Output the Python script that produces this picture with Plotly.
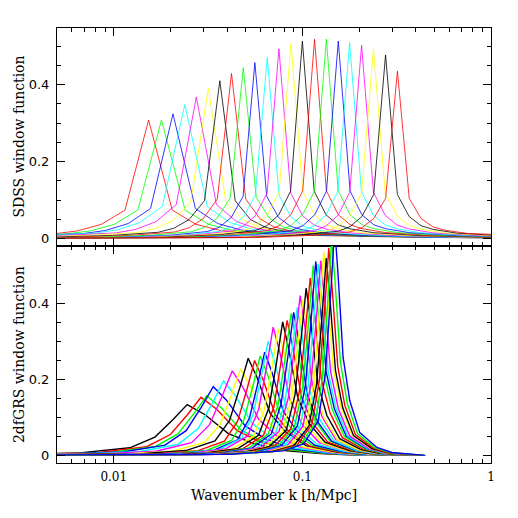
import numpy as np
import plotly.graph_objects as go
from plotly.subplots import make_subplots

# --- SDSS (top panel): peak position, peak height, relative width of each window
SDSS_K = [0.0153, 0.0179, 0.0206, 0.0238, 0.0274, 0.0317, 0.0365, 0.0421,
          0.0486, 0.0560, 0.0651, 0.0751, 0.0870, 0.100, 0.116, 0.134,
          0.155, 0.178, 0.206, 0.238, 0.276, 0.319]
SDSS_PEAK = [0.308, 0.308, 0.324, 0.348, 0.368, 0.390, 0.410, 0.429,
             0.444, 0.457, 0.470, 0.493, 0.507, 0.513, 0.518, 0.518,
             0.513, 0.509, 0.502, 0.492, 0.477, 0.435]
SDSS_WIDTH = [2.0, 2.0, 1.9, 1.9, 1.7, 1.5, 1.3, 1.2, 1.1, 1.0, 1.0,
              1.0, 1.0, 1.0, 1.0, 1.0, 1.0, 1.0, 1.0, 1.0, 1.0, 1.0]
SDSS_STEP_DEX = 0.0627
# window shape: offset in k-bins, height relative to the peak
SDSS_OFFSET = [-40, -12, -7, -4, -3, -2, -1, 0, 1, 2, 3, 4, 6, 10, 16, 40]
SDSS_SHAPE = [0.0, 0.006, 0.02, 0.04, 0.065, 0.12, 0.24, 1.0,
              0.24, 0.12, 0.07, 0.05, 0.03, 0.015, 0.006, 0.0]

# --- 2dFGRS (bottom panel)
TDF_K = [0.0245, 0.0290, 0.0311, 0.0337, 0.0382, 0.0425, 0.0470, 0.0516,
         0.0558, 0.0597, 0.0631, 0.0658, 0.0700, 0.0744, 0.0786, 0.0830,
         0.0872, 0.0899, 0.0939, 0.0973, 0.1004, 0.1047, 0.1100, 0.1141,
         0.1177, 0.1213, 0.1251, 0.1298, 0.1338, 0.1380, 0.1431, 0.1484]
TDF_PEAK = [0.134, 0.153, 0.157, 0.181, 0.196, 0.223, 0.228, 0.256,
            0.250, 0.262, 0.272, 0.301, 0.338, 0.333, 0.352, 0.356,
            0.374, 0.377, 0.390, 0.421, 0.410, 0.441, 0.467, 0.500,
            0.511, 0.505, 0.513, 0.537, 0.520, 0.546, 0.570, 0.600]
TDF_LEFT_WIDTH = [1.9, 1.8, 1.7, 1.6, 1.5, 1.35, 1.2, 1.1, 1.0, 0.95, 0.9,
                  0.88, 0.85, 0.82, 0.8, 0.78, 0.76, 0.74, 0.72, 0.7, 0.68,
                  0.66, 0.64, 0.62, 0.61, 0.6, 0.59, 0.58, 0.57, 0.56,
                  0.55, 0.55]
TDF_LEFT_DEX = [-4.0, -1.0, -0.5, -0.3, -0.16, -0.09, -0.04]
TDF_LEFT_SHAPE = [0.0, 0.005, 0.02, 0.05, 0.15, 0.36, 0.7]
TDF_RIGHT_DK = [0.0, 0.006, 0.016, 0.03, 0.053, 0.1, 0.15, 0.3]
TDF_RIGHT_SHAPE = [1.0, 0.8, 0.43, 0.24, 0.1, 0.035, 0.013, 0.0]

PEN_COLORS = ["black", "#ff0000", "#00ff00", "#0000ff", "#00ffff", "#ff00ff", "#ffff00"]

K_RANGE = [0.005, 1.0]
K_TICKS = [0.01, 0.1, 1]
K_TICK_LABELS = ["0.01", "0.1", "1"]
K_MINOR = [0.006, 0.007, 0.008, 0.009,
           0.02, 0.03, 0.04, 0.05, 0.06, 0.07, 0.08, 0.09,
           0.2, 0.3, 0.4, 0.5, 0.6, 0.7, 0.8, 0.9]
W_TICKS = [0, 0.2, 0.4]
W_TICK_LABELS = ["0", "0.2", "0.4"]

TITLE_FONT = dict(family="DejaVu Serif", size=14, color="black")

fig = make_subplots(rows=2, cols=1, shared_xaxes=True, vertical_spacing=0)

# SDSS windows
for i, (kp, h, w) in enumerate(zip(SDSS_K, SDSS_PEAK, SDSS_WIDTH)):
    off = np.array(SDSS_OFFSET) * w * SDSS_STEP_DEX
    fig.add_trace(
        go.Scatter(
            x=kp * 10 ** off,
            y=h * np.array(SDSS_SHAPE),
            mode="lines",
            line=dict(color=PEN_COLORS[(i + 1) % 7], width=0.8),
            showlegend=False,
            hoverinfo="skip",
        ),
        row=1, col=1,
    )

# 2dFGRS windows
for i, (kp, h, w) in enumerate(zip(TDF_K, TDF_PEAK, TDF_LEFT_WIDTH)):
    left_k = kp * 10 ** (np.array(TDF_LEFT_DEX) * w)
    right_k = kp + np.array(TDF_RIGHT_DK)
    fig.add_trace(
        go.Scatter(
            x=np.concatenate([left_k, right_k]),
            y=h * np.array(TDF_LEFT_SHAPE + TDF_RIGHT_SHAPE),
            mode="lines",
            line=dict(color=PEN_COLORS[i % 7], width=1.4),
            showlegend=False,
            hoverinfo="skip",
        ),
        row=2, col=1,
    )

axis_common = dict(
    showline=True, linecolor="black", linewidth=1, mirror="allticks",
    ticks="inside", ticklen=8, tickwidth=1, tickcolor="black",
    showgrid=False, zeroline=False, automargin=False,
)

fig.update_xaxes(
    type="log",
    range=[np.log10(K_RANGE[0]), np.log10(K_RANGE[1])],
    tickvals=K_TICKS, ticktext=K_TICK_LABELS,
    minor=dict(tickvals=K_MINOR, ticks="inside", ticklen=4,
               tickwidth=1, tickcolor="black"),
    tickfont=dict(family="DejaVu Serif", size=12, color="black"),
    ticklabelstandoff=3,
    **axis_common,
)

fig.update_yaxes(
    tickvals=W_TICKS, ticktext=W_TICK_LABELS,
    minor=dict(dtick=0.05, ticks="inside", ticklen=4,
               tickwidth=1, tickcolor="black"),
    tickfont=dict(family="DejaVu Sans", size=13, color="black"),
    ticklabelstandoff=4,
    **axis_common,
)
fig.update_yaxes(range=[-0.018, 0.547], row=1, col=1)
fig.update_yaxes(range=[-0.02, 0.553], row=2, col=1)

fig.add_annotation(text="Wavenumber k [h/Mpc]", xref="paper", yref="paper",
                   x=0.5, y=-0.074, xanchor="center", yanchor="middle",
                   showarrow=False, font=TITLE_FONT)
fig.add_annotation(text="SDSS window function", xref="paper", yref="paper",
                   x=-0.088, y=0.75, xanchor="center", yanchor="middle",
                   textangle=-90, showarrow=False, font=TITLE_FONT)
fig.add_annotation(text="2dfGRS window function", xref="paper", yref="paper",
                   x=-0.088, y=0.25, xanchor="center", yanchor="middle",
                   textangle=-90, showarrow=False, font=TITLE_FONT)

# the page body adds an 8px offset, so the figure is sized to fit inside it
fig.update_layout(
    width=510, height=502,
    margin=dict(l=49, r=27, t=20, b=47),
    paper_bgcolor="white", plot_bgcolor="white",
)

fig.write_html("out.html")
